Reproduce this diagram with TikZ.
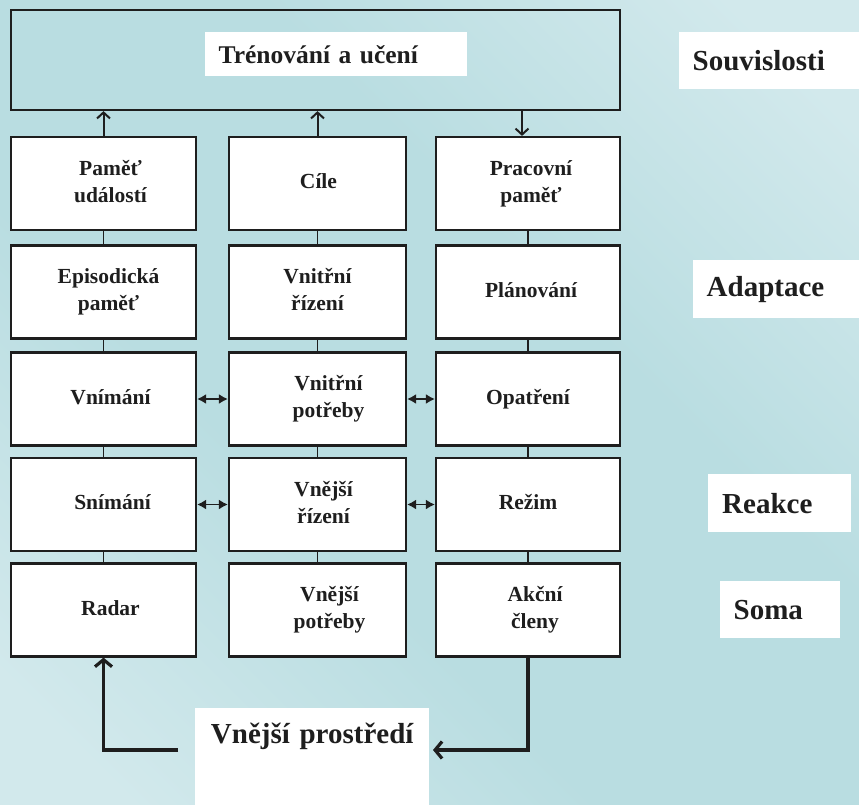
\documentclass[tikz,border=0pt]{standalone}
\usepackage{fontspec}
\setmainfont{Liberation Serif}
\usetikzlibrary{arrows.meta,calc}

\definecolor{bglight}{HTML}{D2E9EC}
\definecolor{bgdark}{HTML}{B9DDE1}
\definecolor{ink}{HTML}{1E1E1E}

\newcommand\boxfont{\bfseries\fontsize{21.5}{27}\selectfont}
\newcommand\titlefont{\bfseries\fontsize{25.5}{30}\selectfont}
\newcommand\tagfont{\bfseries\fontsize{29}{34}\selectfont}
% box caption, nudged sideways by #1 (in pt)
\newcommand\boxcap[2]{\hspace*{\dimexpr 2pt*#1\relax}\begin{tabular}{@{}c@{}}#2\end{tabular}}

% diagonal band: light at both ends, deeper teal across the middle
\pgfdeclareverticalshading{tealband}{100bp}{%
  color(0bp)=(bglight); color(20bp)=(bglight); color(40bp)=(bgdark);
  color(60bp)=(bgdark); color(80bp)=(bglight); color(100bp)=(bglight)}

\tikzset{
  box/.style={draw=ink, line width=2.2pt, fill=white, minimum height=93pt,
    inner sep=0pt, font=\boxfont, text=ink},
  frame/.style={draw=ink, line width=2.2pt, inner sep=0pt},
  tag/.style={fill=white, inner ysep=0pt, inner xsep=13.5pt, align=left,
    anchor=north west, text=ink, font=\tagfont},
  link/.style={draw=ink, line width=1.8pt},
  uparr/.style={draw=ink, line width=2pt, -{Straight Barb[length=6pt,width=13pt]}},
  dbl/.style={draw=ink, line width=1.6pt,
    {Latex[length=9pt,width=10pt]}-{Latex[length=9pt,width=10pt]}},
  bigarr/.style={draw=ink, line width=3.2pt,
    -{Straight Barb[length=7pt,width=17pt]}},
}

\begin{document}
\begin{tikzpicture}[x=1pt,y=-1pt]
  \useasboundingbox (0,0) rectangle (859,804);
  % soft teal backdrop
  \shade[shading=tealband, shading angle=-45] (0,0) rectangle (859,804);

  % training block
  \node[frame, minimum width=609pt, minimum height=100pt] (train) at (315.5,60) {};
  \node[tag, font=\titlefont, text width=235pt, minimum height=44pt] (traintitle)
    at (205,32) {Trénování a učení};

  % column 1
  \node[box, minimum width=185pt] (p11) at (103.5,183.5) {\boxcap{7}{Paměť\\událostí}};
  \node[box, minimum width=185pt] (p21) at (103.5,292)   {\boxcap{5}{Episodická\\paměť}};
  \node[box, minimum width=185pt] (p31) at (103.5,399)   {\boxcap{7}{Vnímání}};
  \node[box, minimum width=185pt] (p41) at (103.5,504.5) {\boxcap{9}{Snímání}};
  \node[box, minimum width=185pt] (p51) at (103.5,610)   {\boxcap{7}{Radar}};
  % column 2
  \node[box, minimum width=177pt] (p12) at (317.5,183.5) {\boxcap{1}{Cíle}};
  \node[box, minimum width=177pt] (p22) at (317.5,292)   {\boxcap{0}{Vnitřní\\řízení}};
  \node[box, minimum width=177pt] (p32) at (317.5,399)   {\boxcap{11}{Vnitřní\\potřeby}};
  \node[box, minimum width=177pt] (p42) at (317.5,504.5) {\boxcap{6}{Vnější\\řízení}};
  \node[box, minimum width=177pt] (p52) at (317.5,610)   {\boxcap{12}{Vnější\\potřeby}};
  % column 3
  \node[box, minimum width=184pt] (p13) at (528,183.5) {\boxcap{3}{Pracovní\\paměť}};
  \node[box, minimum width=184pt] (p23) at (528,292)   {\boxcap{3}{Plánování}};
  \node[box, minimum width=184pt] (p33) at (528,399)   {\boxcap{0}{Opatření}};
  \node[box, minimum width=184pt] (p43) at (528,504.5) {\boxcap{0}{Režim}};
  \node[box, minimum width=184pt] (p53) at (528,610)   {\boxcap{7}{Akční\\členy}};

  % level tags on the right
  \node[tag, text width=170pt, minimum height=57pt] (t1) at (679,32)  {Souvislosti};
  \node[tag, text width=160pt, minimum height=58pt] (t2) at (693,260) {Adaptace};
  \node[tag, inner xsep=14pt, text width=115pt, minimum height=58pt] (t3) at (708,474) {Reakce};
  \node[tag, text width=93pt, minimum height=57pt] (t4) at (720,581) {Soma};

  % environment
  \node[tag, anchor=north west, align=center, inner xsep=5pt, inner ysep=4pt,
    text width=224pt, text height=31pt, text depth=65pt] (env) at (195,708)
    {Vnější prostředí};

  % links to the training block
  \draw[uparr] (p11.north) -- (p11.north |- train.south);
  \draw[uparr] (p12.north) -- (p12.north |- train.south);
  \draw[uparr] ($(train.south -| p13.north)+(-6,0)$) -- ($(p13.north)+(-6,0)$);

  % vertical links inside each column
  \foreach \c in {1,2,3}{
    \draw[link] (p1\c.south) -- (p2\c.north);
    \draw[link] (p2\c.south) -- (p3\c.north);
    \draw[link] (p3\c.south) -- (p4\c.north);
    \draw[link] (p4\c.south) -- (p5\c.north);
  }

  % two-way links between columns
  \draw[dbl] (p31.east) -- (p32.west);
  \draw[dbl] (p32.east) -- (p33.west);
  \draw[dbl] (p41.east) -- (p42.west);
  \draw[dbl] (p42.east) -- (p43.west);

  % loop through the environment
  \coordinate (envL) at (178,750);
  \coordinate (envR) at (433,750);
  \draw[bigarr] (envL) -| (p51.south);
  \draw[bigarr] (p53.south) |- (envR);
\end{tikzpicture}
\end{document}
